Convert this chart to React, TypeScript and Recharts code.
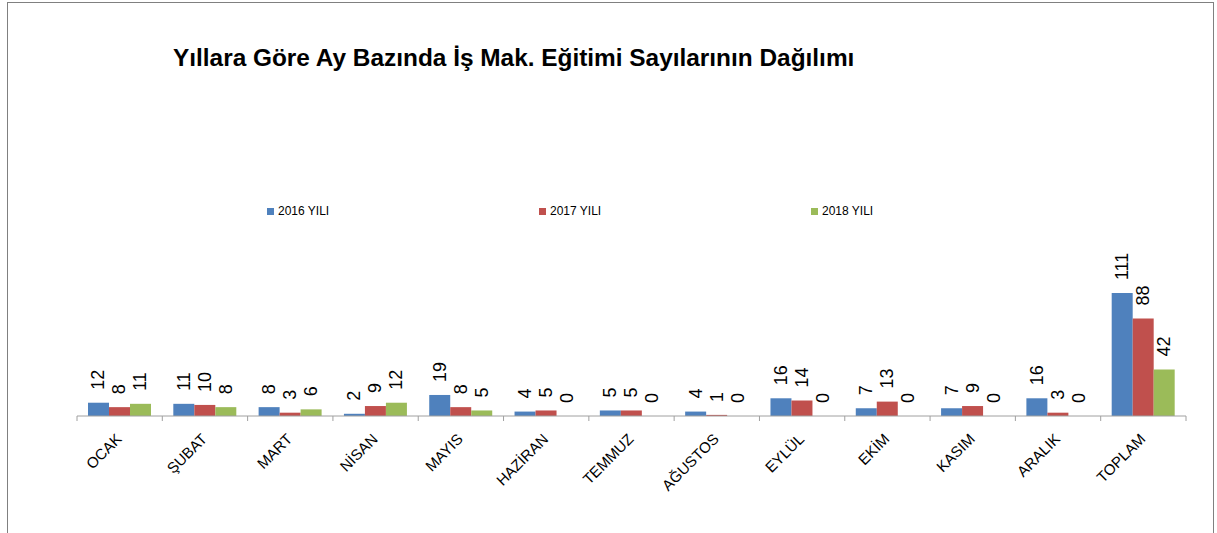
import { BarChart, Bar, XAxis, YAxis, LabelList } from 'recharts';

const months = ['OCAK', 'ŞUBAT', 'MART', 'NİSAN', 'MAYIS', 'HAZİRAN', 'TEMMUZ', 'AĞUSTOS', 'EYLÜL', 'EKİM', 'KASIM', 'ARALIK', 'TOPLAM'];
const y2016 = [12, 11, 8, 2, 19, 4, 5, 4, 16, 7, 7, 16, 111];
const y2017 = [8, 10, 3, 9, 8, 5, 5, 1, 14, 13, 9, 3, 88];
const y2018 = [11, 8, 6, 12, 5, 0, 0, 0, 0, 0, 0, 0, 42];

const seriesNames = ['2016 YILI', '2017 YILI', '2018 YILI'];
const seriesKeys = ['y2016', 'y2017', 'y2018'];
const colors = ['#4F81BD', '#C0504D', '#9BBB59'];

const title = 'Yıllara Göre Ay Bazında İş Mak. Eğitimi Sayılarının Dağılımı';

const data = months.map((m, i) => ({ month: m, y2016: y2016[i], y2017: y2017[i], y2018: y2018[i] }));

const W = 1217;
const H = 533;
const MARGIN = { top: 261, right: 31, left: 77, bottom: 0 };
const AXIS_H = 117;
const BAND = (W - MARGIN.left - MARGIN.right) / months.length;
const TICK_SIZE = 5;
const TICK_MARGIN = 2;
const AXIS_COLOR = '#a0a0a0';
const FONT = '"Liberation Sans", Arial, sans-serif';

function MonthTick(props: any) {
  const { x, y, payload, index } = props;
  const axisY = y - TICK_SIZE - TICK_MARGIN;
  const isLast = index === months.length - 1;
  const tx = x + 3;
  const ty = axisY + 24;
  return (
    <g>
      <line x1={x - BAND / 2} x2={x - BAND / 2} y1={axisY} y2={axisY + TICK_SIZE} stroke={AXIS_COLOR} />
      {isLast && <line x1={x + BAND / 2} x2={x + BAND / 2} y1={axisY} y2={axisY + TICK_SIZE} stroke={AXIS_COLOR} />}
      <text
        x={tx}
        y={ty}
        textAnchor="end"
        transform={`rotate(-45, ${tx}, ${ty})`}
        fontSize={15}
        fontFamily={FONT}
        fill="#000"
      >
        {payload.value}
      </text>
    </g>
  );
}

function ValueLabel(props: any) {
  const { x, y, width, value } = props;
  if (x == null || y == null) return null;
  const cx = x + width / 2;
  const cy = y - 13;
  return (
    <text
      x={cx}
      y={cy}
      transform={`rotate(-90, ${cx}, ${cy})`}
      textAnchor="start"
      dominantBaseline="central"
      fontSize={18}
      fontFamily={FONT}
      fill="#000"
    >
      {String(value)}
    </text>
  );
}

export default function App() {
  return (
    <div style={{ position: 'absolute', left: 0, top: 0, width: W, height: H, overflow: 'hidden', background: '#fff' }}>
      <div
        style={{
          position: 'absolute',
          left: 7,
          top: 2,
          width: 1207,
          height: H,
          border: '1px solid #808080',
          borderBottom: 'none',
          boxSizing: 'border-box',
        }}
      />
      <div
        style={{
          position: 'absolute',
          left: 173,
          top: 46,
          fontFamily: FONT,
          fontWeight: 'bold',
          fontSize: 24.4,
          lineHeight: '24px',
          whiteSpace: 'nowrap',
          color: '#000',
        }}
      >
        {title}
      </div>
      <div style={{ position: 'absolute', left: 0, top: 0 }}>
        <BarChart width={W} height={H} data={data} margin={MARGIN} barCategoryGap={11} barGap={0}>
          <XAxis
            dataKey="month"
            interval={0}
            height={AXIS_H}
            tickLine={false}
            tickSize={TICK_SIZE}
            tickMargin={TICK_MARGIN}
            axisLine={{ stroke: AXIS_COLOR }}
            tick={<MonthTick />}
          />
          <YAxis hide domain={[0, 140]} />
          {seriesKeys.map((k, i) => (
            <Bar
              key={k}
              dataKey={k}
              name={seriesNames[i]}
              fill={colors[i]}
              minPointSize={0.01}
              isAnimationActive={false}
            >
              <LabelList dataKey={k} content={<ValueLabel />} />
            </Bar>
          ))}
        </BarChart>
      </div>
      {seriesNames.map((name, i) => (
        <div
          key={name}
          style={{
            position: 'absolute',
            left: 267 + i * 272,
            top: 203,
            display: 'flex',
            alignItems: 'center',
            fontFamily: FONT,
            fontSize: 12,
            lineHeight: '16px',
            color: '#000',
            whiteSpace: 'nowrap',
          }}
        >
          <span style={{ display: 'inline-block', width: 7, height: 7, background: colors[i], marginRight: 4 }} />
          {name}
        </div>
      ))}
    </div>
  );
}
